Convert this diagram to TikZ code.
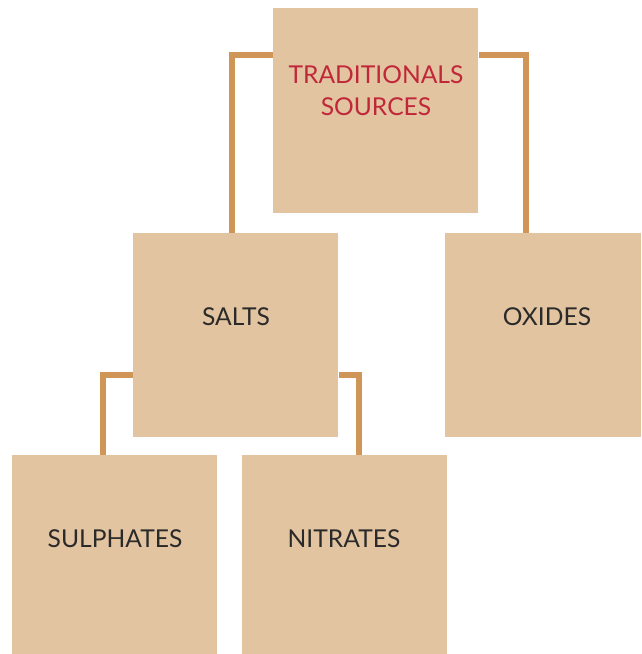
\documentclass[tikz,border=0pt]{standalone}
\usepackage{fontspec}
\setmainfont{Lato}
\usetikzlibrary{positioning}
\definecolor{boxtan}{HTML}{E3C4A0}
\definecolor{linktan}{HTML}{D09658}
\definecolor{headred}{HTML}{C0283A}
\definecolor{inkgrey}{HTML}{2A2A2A}
\tikzset{
  tanbox/.style={rectangle, fill=boxtan, draw=none, inner sep=0pt, anchor=north west},
  link/.style={draw=linktan, line width=3.6pt},
  boxtext/.style={font=\fontsize{17.5}{22.7}\selectfont, text=inkgrey, align=center}
}

\begin{document}
\begin{tikzpicture}[x=0.025cm, y=-0.025cm]
          \useasboundingbox (0,0) rectangle (641,654);

          % the five boxes
          \node[tanbox, minimum width=5.125cm, minimum height=5.125cm] (top) at (273,8) {};
          \node[tanbox, minimum width=5.125cm, minimum height=5.1cm] (salts) at (133,233) {};
          \node[tanbox, minimum width=4.9cm, minimum height=5.1cm] (oxides) at (445,233) {};
          \node[tanbox, minimum width=5.125cm, minimum height=4.975cm] (sulph) at (12,455) {};
          \node[tanbox, minimum width=5.125cm, minimum height=4.975cm] (nitr) at (242,455) {};

          % corners of the links
          \coordinate (kl) at (232,55);
          \coordinate (kr) at (526,55);
          \coordinate (ml) at (103,375);
          \coordinate (mr) at (359,375);

          \draw[link] (top.west |- kl) -- (kl) -- (kl |- salts.north);
          \draw[link] (top.east |- kr) -- (kr) -- (kr |- oxides.north);
          \draw[link] (salts.west |- ml) -- (ml) -- (ml |- sulph.north);
          \draw[link] (salts.east |- mr) -- (mr) -- (mr |- nitr.north);

          \node[boxtext, text=headred] (ttop) at (376,91) {TRADITIONALS\\SOURCES};
          \node[boxtext] (tsalts) at (236,317) {SALTS};
          \node[boxtext] (toxides) at (547,317) {OXIDES};
          \node[boxtext] (tsulph) at (115,539) {SULPHATES};
          \node[boxtext] (tnitr) at (344,539) {NITRATES};
\end{tikzpicture}
\end{document}
